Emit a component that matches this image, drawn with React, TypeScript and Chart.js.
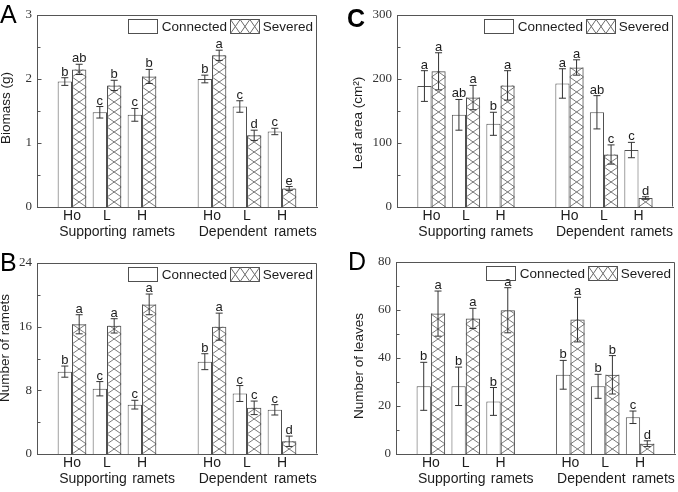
import { useEffect, useRef } from "react";
import { Chart, registerables } from "chart.js";

Chart.register(...registerables);

// Category slots: blank at both ends and between the two ramet groups
const slotLabels = ["", "Ho", "L", "H", "", "Ho", "L", "H", ""];
const barSlots = [1, 2, 3, 5, 6, 7];
const seriesNames = ["Connected", "Severed"];
const groupWords = ["Supporting", "ramets", "Dependent", "ramets"];
const groupWordSlots = [1.6, 3.33, 5.6, 7.38];

// A: biomass (g)
const biomassConnected = [1.96, 1.48, 1.44, 2.0, 1.57, 1.18];
const biomassConnectedErr = [0.06, 0.09, 0.1, 0.06, 0.09, 0.05];
const biomassConnectedSig = ["b", "c", "c", "b", "c", "c"];
const biomassSevered = [2.15, 1.9, 2.04, 2.37, 1.12, 0.29];
const biomassSeveredErr = [0.08, 0.08, 0.11, 0.08, 0.08, 0.03];
const biomassSeveredSig = ["ab", "b", "b", "a", "d", "e"];
const biomassTicks = [0, 3, 1];

// B: number of ramets
const rametsConnected = [10.35, 8.2, 6.2, 11.6, 7.6, 5.55];
const rametsConnectedErr = [0.7, 0.9, 0.55, 1.0, 1.0, 0.65];
const rametsConnectedSig = ["b", "c", "c", "b", "c", "c"];
const rametsSevered = [16.3, 16.1, 18.8, 16.0, 5.8, 1.6];
const rametsSeveredErr = [1.2, 0.9, 1.3, 1.7, 0.85, 0.65];
const rametsSeveredSig = ["a", "a", "a", "a", "c", "d"];
const rametsTicks = [0, 24, 8];

// C: leaf area (cm²)
const leafAreaConnected = [189, 144, 130, 193, 148, 89];
const leafAreaConnectedErr = [24, 24, 18, 23, 26, 12];
const leafAreaConnectedSig = ["a", "ab", "b", "a", "ab", "c"];
const leafAreaSevered = [212, 171, 190, 218, 82, 14];
const leafAreaSeveredErr = [29, 19, 23, 12, 15, 2];
const leafAreaSeveredSig = ["a", "a", "a", "a", "c", "d"];
const leafAreaTicks = [0, 300, 100];

// D: number of leaves
const leavesConnected = [28.2, 28.2, 21.9, 33, 28.2, 15.3];
const leavesConnectedErr = [10, 8, 5.8, 6, 5, 2.6];
const leavesConnectedSig = ["b", "b", "b", "b", "b", "c"];
const leavesSevered = [58.5, 56.5, 59.9, 56, 33, 4.3];
const leavesSeveredErr = [9.4, 4.2, 9.4, 9.3, 8, 1.2];
const leavesSeveredSig = ["a", "a", "a", "a", "b", "d"];
const leavesTicks = [0, 80, 20];

const SANS = "'Liberation Sans', Arial, sans-serif";
const SERIF = "'Liberation Serif', 'Times New Roman', serif";
const INK = "#1c1c1c";
const AXIS = "#555555";
const BAR_EDGE = "#505050";
const HATCH = "#6a6a6a";
const WHISKER = "#333333";

type Series = { values: number[]; err: number[]; sig: string[] };
type PanelSpec = {
  letter: string;
  letterBold: boolean;
  letterPos: [number, number];
  yTitle: string;
  yTitlePos: [number, number];
  ticks: number[];
  connected: Series;
  severed: Series;
  box: { x: number; y: number; w: number; h: number };
  pad: { top: number; right: number };
  yWidth: number;
  xHeight: number;
};

const panels: PanelSpec[] = [
  {
    letter: "A", letterBold: false, letterPos: [0, 23],
    yTitle: "Biomass (g)", yTitlePos: [6, 108],
    ticks: biomassTicks,
    connected: { values: biomassConnected, err: biomassConnectedErr, sig: biomassConnectedSig },
    severed: { values: biomassSevered, err: biomassSeveredErr, sig: biomassSeveredSig },
    box: { x: 0, y: 0, w: 339, h: 246 }, pad: { top: 15, right: 22 }, yWidth: 37, xHeight: 39,
  },
  {
    letter: "C", letterBold: true, letterPos: [8, 27],
    yTitle: "Leaf area (cm²)", yTitlePos: [19, 123],
    ticks: leafAreaTicks,
    connected: { values: leafAreaConnected, err: leafAreaConnectedErr, sig: leafAreaConnectedSig },
    severed: { values: leafAreaSevered, err: leafAreaSeveredErr, sig: leafAreaSeveredSig },
    box: { x: 339, y: 0, w: 339, h: 246 }, pad: { top: 15, right: 5 }, yWidth: 58, xHeight: 39,
  },
  {
    letter: "B", letterBold: false, letterPos: [0, 25],
    yTitle: "Number of ramets", yTitlePos: [5, 102],
    ticks: rametsTicks,
    connected: { values: rametsConnected, err: rametsConnectedErr, sig: rametsConnectedSig },
    severed: { values: rametsSevered, err: rametsSeveredErr, sig: rametsSeveredSig },
    box: { x: 0, y: 246, w: 339, h: 246 }, pad: { top: 17, right: 22 }, yWidth: 37, xHeight: 38,
  },
  {
    letter: "D", letterBold: false, letterPos: [9, 24],
    yTitle: "Number of leaves", yTitlePos: [20, 120],
    ticks: leavesTicks,
    connected: { values: leavesConnected, err: leavesConnectedErr, sig: leavesConnectedSig },
    severed: { values: leavesSevered, err: leavesSeveredErr, sig: leavesSeveredSig },
    box: { x: 339, y: 246, w: 339, h: 246 }, pad: { top: 16, right: 3 }, yWidth: 57, xHeight: 38,
  },
];

function toSlots(values: number[]): (number | null)[] {
  const out: (number | null)[] = slotLabels.map(() => null);
  barSlots.forEach((slot, k) => {
    out[slot] = values[k];
  });
  return out;
}

function drawCross(ctx: CanvasRenderingContext2D, left: number, right: number, y0: number, y1: number) {
  ctx.moveTo(left, y0);
  ctx.lineTo(right, y1);
  ctx.moveTo(right, y0);
  ctx.lineTo(left, y1);
}

function decorPlugin(spec: PanelSpec) {
  return {
    id: "panelDecor",
    beforeDatasetsDraw(chart: any) {
      // cross-hatching inside the severed bars
      const ctx: CanvasRenderingContext2D = chart.ctx;
      const meta = chart.getDatasetMeta(1);
      ctx.save();
      ctx.strokeStyle = HATCH;
      ctx.lineWidth = 0.9;
      barSlots.forEach((slot) => {
        const bar = meta.data[slot];
        if (!bar) return;
        const { x, y, base, width } = bar.getProps(["x", "y", "base", "width"], true);
        const left = x - width / 2;
        const right = x + width / 2;
        ctx.save();
        ctx.beginPath();
        ctx.rect(left, y, width, base - y);
        ctx.clip();
        ctx.beginPath();
        const P = 10;
        for (let y0 = base + P; y0 > y - P; y0 -= P) {
          drawCross(ctx, left, right, y0, y0 - P);
        }
        ctx.stroke();
        ctx.restore();
      });
      ctx.restore();
    },
    afterDatasetsDraw(chart: any) {
      // error bars and significance letters
      const ctx: CanvasRenderingContext2D = chart.ctx;
      const yScale = chart.scales.y;
      const series = [spec.connected, spec.severed];
      ctx.save();
      ctx.strokeStyle = WHISKER;
      ctx.lineWidth = 1;
      ctx.fillStyle = INK;
      ctx.font = `13px ${SANS}`;
      ctx.textAlign = "center";
      ctx.textBaseline = "alphabetic";
      series.forEach((s, d) => {
        const meta = chart.getDatasetMeta(d);
        barSlots.forEach((slot, k) => {
          const bar = meta.data[slot];
          if (!bar) return;
          const x = bar.x;
          const yTop = yScale.getPixelForValue(s.values[k] + s.err[k]);
          const yBot = yScale.getPixelForValue(Math.max(0, s.values[k] - s.err[k]));
          ctx.beginPath();
          ctx.moveTo(x, yTop);
          ctx.lineTo(x, yBot);
          ctx.moveTo(x - 3.5, yTop);
          ctx.lineTo(x + 3.5, yTop);
          ctx.moveTo(x - 3.5, yBot);
          ctx.lineTo(x + 3.5, yBot);
          ctx.stroke();
          ctx.fillText(s.sig[k], x, yTop - 2);
        });
      });
      ctx.restore();
    },
    afterDraw(chart: any) {
      const ctx: CanvasRenderingContext2D = chart.ctx;
      const area = chart.chartArea;
      const yScale = chart.scales.y;
      const xScale = chart.scales.x;
      const L = Math.round(area.left) + 0.5;
      const R = Math.round(area.right) - 0.5;
      const T = Math.round(area.top) + 0.5;
      const B = Math.round(area.bottom) - 0.5;
      ctx.save();

      // frame top and right
      ctx.strokeStyle = AXIS;
      ctx.lineWidth = 1;
      ctx.beginPath();
      ctx.moveTo(L, T);
      ctx.lineTo(R, T);
      ctx.lineTo(R, B);
      ctx.stroke();

      // inward major and minor ticks on the value axis
      const [min, max, step] = spec.ticks;
      ctx.beginPath();
      for (let i = 0; min + (i * step) / 2 <= max + 1e-9; i++) {
        const v = min + (i * step) / 2;
        const py = Math.round(yScale.getPixelForValue(v)) + 0.5;
        const len = i % 2 === 0 ? 4 : 3;
        ctx.moveTo(L, py);
        ctx.lineTo(L + len, py);
      }
      ctx.stroke();

      // value-axis title
      ctx.fillStyle = INK;
      ctx.font = `13.5px ${SANS}`;
      ctx.textAlign = "center";
      ctx.textBaseline = "middle";
      ctx.save();
      ctx.translate(spec.yTitlePos[0], spec.yTitlePos[1]);
      ctx.rotate(-Math.PI / 2);
      ctx.fillText(spec.yTitle, 0, 0);
      ctx.restore();

      // group names under the slot labels
      ctx.font = `14px ${SANS}`;
      groupWords.forEach((w, i) => {
        ctx.fillText(w, xScale.getPixelForValue(groupWordSlots[i]), area.bottom + 25);
      });

      // legend in the top-right corner of the plot
      ctx.font = `13.5px ${SANS}`;
      ctx.textAlign = "left";
      const sw = 29;
      const sh = 14;
      const top = Math.round(area.top) + 4;
      const mid = top + sh / 2;
      const sevW = ctx.measureText(seriesNames[1]).width;
      const sevX = area.right - 4 - sevW;
      const sw2L = Math.round(sevX - 4 - sw);
      const conW = ctx.measureText(seriesNames[0]).width;
      const conX = sw2L - 3 - conW;
      const sw1L = Math.round(conX - 5 - sw);
      ctx.fillText(seriesNames[0], conX, mid + 1);
      ctx.fillText(seriesNames[1], sevX, mid + 1);
      ctx.strokeStyle = BAR_EDGE;
      ctx.strokeRect(sw1L + 0.5, top + 0.5, sw, sh);
      ctx.strokeRect(sw2L + 0.5, top + 0.5, sw, sh);
      ctx.strokeStyle = HATCH;
      ctx.beginPath();
      for (let j = 0; j < 3; j++) {
        const a = sw2L + 0.5 + (j * sw) / 3;
        drawCross(ctx, a, a + sw / 3, top + 0.5, top + 0.5 + sh);
      }
      ctx.stroke();

      // panel letter
      ctx.fillStyle = "#000";
      ctx.font = `${spec.letterBold ? "bold " : ""}25px ${SANS}`;
      ctx.textBaseline = "alphabetic";
      ctx.fillText(spec.letter, spec.letterPos[0], spec.letterPos[1]);

      ctx.restore();
    },
  };
}

function buildConfig(spec: PanelSpec): any {
  const [min, max, step] = spec.ticks;
  return {
    type: "bar",
    data: {
      labels: slotLabels,
      datasets: [
        {
          label: seriesNames[0],
          data: toSlots(spec.connected.values),
          backgroundColor: "#ffffff",
          borderColor: BAR_EDGE,
          borderWidth: 1,
        },
        {
          label: seriesNames[1],
          data: toSlots(spec.severed.values),
          backgroundColor: "rgba(0,0,0,0)",
          borderColor: BAR_EDGE,
          borderWidth: 1,
        },
      ],
    },
    options: {
      animation: false,
      responsive: false,
      devicePixelRatio: 1,
      categoryPercentage: 0.82,
      barPercentage: 1,
      layout: { padding: { top: spec.pad.top, right: spec.pad.right, left: 0, bottom: 0 } },
      plugins: { legend: { display: false }, tooltip: { enabled: false } },
      scales: {
        x: {
          type: "category",
          offset: false,
          grid: { display: false, drawTicks: false, offset: false },
          border: { display: true, color: AXIS, width: 1 },
          ticks: {
            autoSkip: false,
            maxRotation: 0,
            padding: 1,
            color: INK,
            font: { family: SANS, size: 14 },
          },
          afterFit(scale: any) {
            scale.height = spec.xHeight;
          },
        },
        y: {
          min,
          max,
          grid: { display: false, drawTicks: false },
          border: { display: true, color: AXIS, width: 1 },
          ticks: {
            stepSize: step,
            padding: 5,
            color: "#333",
            font: { family: SERIF, size: 13 },
          },
          afterFit(scale: any) {
            scale.width = spec.yWidth;
          },
        },
      },
    },
    plugins: [decorPlugin(spec)],
  };
}

function Panel({ spec }: { spec: PanelSpec }) {
  const ref = useRef<HTMLCanvasElement>(null);
  useEffect(() => {
    if (!ref.current) return;
    const chart = new Chart(ref.current, buildConfig(spec));
    return () => chart.destroy();
  }, [spec]);
  return (
    <canvas
      ref={ref}
      width={spec.box.w}
      height={spec.box.h}
      style={{ position: "absolute", left: spec.box.x, top: spec.box.y, width: spec.box.w, height: spec.box.h }}
    />
  );
}

export default function App() {
  return (
    <div style={{ position: "fixed", left: 0, top: 0, width: 678, height: 492, background: "#fff" }}>
      {panels.map((p) => (
        <Panel key={p.letter} spec={p} />
      ))}
    </div>
  );
}
